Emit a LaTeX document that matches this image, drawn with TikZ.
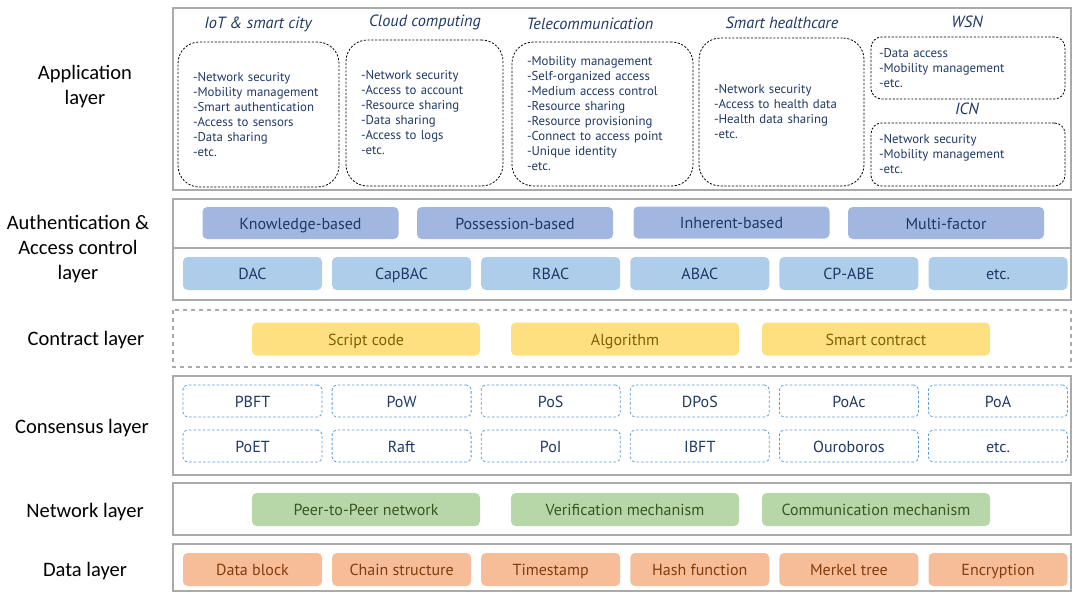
\documentclass[tikz,border=0pt]{standalone}
\usepackage{fontspec}
\setmainfont{Carlito}
\newfontfamily\boxfont{PT Sans}
\definecolor{navy}{RGB}{31,56,100}
\definecolor{framegray}{RGB}{170,170,170}
\definecolor{kindfill}{RGB}{161,183,223}
\definecolor{modelfill}{RGB}{174,205,234}
\definecolor{contractfill}{RGB}{255,224,128}
\definecolor{contracttext}{RGB}{127,96,0}
\definecolor{consdash}{RGB}{91,155,213}
\definecolor{netfill}{RGB}{183,215,168}
\definecolor{nettext}{RGB}{56,87,35}
\definecolor{datafill}{RGB}{246,189,152}
\definecolor{datatext}{RGB}{132,60,12}

\begin{document}
\begin{tikzpicture}[x=0.75pt, y=-0.75pt,
    layerframe/.style={draw=framegray, line width=1.1pt},
    laylabel/.style={align=center, font=\fontsize{15.4}{18.75}\selectfont},
    apptitle/.style={text=navy, font=\boxfont\itshape\fontsize{12.2}{14}\selectfont},
    appbox/.style={draw, dash pattern=on 1.6pt off 1.2pt, line width=0.6pt, rounded corners=16pt,
        align=left, inner xsep=11.25pt, text=navy, font=\boxfont\fontsize{9.6}{11.25}\selectfont},
    tag/.style={rounded corners=3.5pt, inner sep=0pt, text height=10.6pt, text depth=1.2pt,
        font=\boxfont\fontsize{12}{14}\selectfont},
    kindbox/.style={tag, fill=kindfill, text=navy, minimum width=147pt, minimum height=24pt},
    modelbox/.style={tag, fill=modelfill, text=navy, minimum width=104.25pt, minimum height=24.75pt},
    contractbox/.style={tag, fill=contractfill, text=contracttext, minimum width=171pt, minimum height=24.75pt},
    consbox/.style={tag, draw=consdash, dash pattern=on 2pt off 1.5pt, line width=0.6pt, text=navy,
        minimum width=104.25pt, minimum height=24pt},
    netbox/.style={tag, fill=netfill, text=nettext, minimum width=171pt, minimum height=24.75pt},
    databox/.style={tag, fill=datafill, text=datatext, minimum width=104.25pt, minimum height=24.75pt}]
    \useasboundingbox (0,0) rectangle (1073,592);

    % First the layer frames
    \draw [layerframe] (173,8) rectangle (1071,190);
    \draw [layerframe] (173,199) rectangle (1071,300);
    \draw [layerframe] (173,248) -- (1071,248);
    \draw [layerframe, dashed] (173,310) rectangle (1071,367);
    \draw [layerframe] (173,376) rectangle (1071,475);
    \draw [layerframe] (173,483) rectangle (1071,535);
    \draw [layerframe] (173,544) rectangle (1071,591);

    % Now the layer names on the left
    \node [laylabel] (applab) at (85,87) {Application\\layer};
    \node [laylabel] (authlab) at (78,249) {Authentication \&\\Access control\\layer};
    \node [laylabel] (conlab) at (86,340) {Contract layer};
    \node [laylabel] (conslab) at (82,428) {Consensus layer};
    \node [laylabel] (netlab) at (85,512) {Network layer};
    \node [laylabel] (datalab) at (85,571) {Data layer};

    % Application layer
    \node [apptitle] (iottitle) at (258,24) {IoT \& smart city};
    \node [appbox, text width=98.25pt, minimum height=108.75pt] (iot) at (258.5,114.5)
        {-Network security\\-Mobility management\\-Smart authentication\\-Access to sensors\\-Data sharing\\-etc.};
    \node [apptitle] (cloudtitle) at (425,22) {Cloud computing};
    \node [appbox, text width=95.25pt, minimum height=109.5pt] (cloud) at (424.5,113)
        {-Network security\\-Access to account\\-Resource sharing\\-Data sharing\\-Access to logs\\-etc.};
    \node [apptitle] (teletitle) at (590,24) {Telecommunication};
    \node [appbox, text width=113.25pt, minimum height=108pt] (tele) at (602.5,114)
        {-Mobility management\\-Self-organized access\\-Medium access control\\-Resource sharing\\-Resource provisioning\\-Connect to access point\\-Unique identity\\-etc.};
    \node [apptitle] (healthtitle) at (782,23) {Smart healthcare};
    \node [appbox, text width=101.25pt, minimum height=111pt] (health) at (781.5,112)
        {-Network security\\-Access to health data\\-Health data sharing\\-etc.};
    \node [apptitle] (wsntitle) at (967,22) {WSN};
    \node [appbox, rounded corners=8pt, inner xsep=6pt, text width=133.5pt, minimum height=46.5pt] (wsn) at (968,68)
        {-Data access\\-Mobility management\\-etc.};
    \node [apptitle] (icntitle) at (967,109) {ICN};
    \node [appbox, rounded corners=8pt, inner xsep=6pt, text width=133.5pt, minimum height=47.25pt] (icn) at (968,154.5)
        {-Network security\\-Mobility management\\-etc.};

    % Authentication and access control layer
    \node [kindbox] (know) at (300.5,223) {Knowledge-based};
    \node [kindbox] (poss) at (515,223) {Possession-based};
    \node [kindbox] (inher) at (731.5,222.5) {Inherent-based};
    \node [kindbox] (multi) at (946,223) {Multi-factor};
    \node [modelbox] (dac) at (252.5,273.5) {DAC};
    \node [modelbox] (capbac) at (401.6,273.5) {CapBAC};
    \node [modelbox] (rbac) at (550.7,273.5) {RBAC};
    \node [modelbox] (abac) at (699.8,273.5) {ABAC};
    \node [modelbox] (cpabe) at (848.9,273.5) {CP-ABE};
    \node [modelbox] (acetc) at (998,273.5) {etc.};

    % Contract layer
    \node [contractbox] (script) at (366,339) {Script code};
    \node [contractbox] (algo) at (625,339) {Algorithm};
    \node [contractbox] (smart) at (876,339) {Smart contract};

    % Consensus layer
    \node [consbox] (pbft) at (252.5,401) {PBFT};
    \node [consbox] (pow) at (401.6,401) {PoW};
    \node [consbox] (pos) at (550.7,401) {PoS};
    \node [consbox] (dpos) at (699.8,401) {DPoS};
    \node [consbox] (poac) at (848.9,401) {PoAc};
    \node [consbox] (poa) at (998,401) {PoA};
    \node [consbox] (poet) at (252.5,446) {PoET};
    \node [consbox] (raft) at (401.6,446) {Raft};
    \node [consbox] (poi) at (550.7,446) {PoI};
    \node [consbox] (ibft) at (699.8,446) {IBFT};
    \node [consbox] (ouro) at (848.9,446) {Ouroboros};
    \node [consbox] (csetc) at (998,446) {etc.};

    % Network layer
    \node [netbox] (p2p) at (366,509.5) {Peer-to-Peer network};
    \node [netbox] (verif) at (625,509.5) {Verification mechanism};
    \node [netbox] (comm) at (876,509.5) {Communication mechanism};

    % Data layer
    \node [databox] (block) at (252.5,569.5) {Data block};
    \node [databox] (chain) at (401.6,569.5) {Chain structure};
    \node [databox] (tstamp) at (550.7,569.5) {Timestamp};
    \node [databox] (hash) at (699.8,569.5) {Hash function};
    \node [databox] (merkle) at (848.9,569.5) {Merkel tree};
    \node [databox] (encr) at (998,569.5) {Encryption};

\end{tikzpicture}
\end{document}
